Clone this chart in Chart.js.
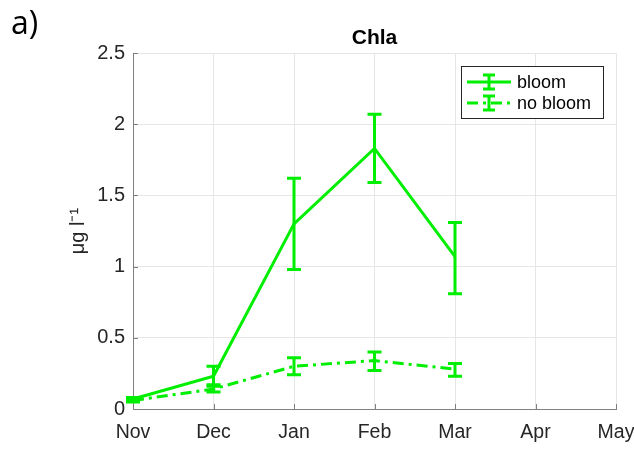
<!DOCTYPE html>
<html>
<head>
<meta charset="utf-8">
<script src="https://cdn.jsdelivr.net/npm/chart.js@4"></script>
<style>
  body { margin: 0; background: #fff; }
  #wrap { position: relative; width: 634px; height: 450px; }
  #panel { position: absolute; left: 11px; top: 0px; font: 32px 'Open Sans', sans-serif; color: #000; }
</style>
</head>
<body>
<div id="wrap">
  <canvas id="chlaChart"></canvas>
  <div id="panel">a)</div>
</div>
<script>
const months = ['Nov', 'Dec', 'Jan', 'Feb', 'Mar', 'Apr', 'May'];
const yTicks = [0, 0.5, 1, 1.5, 2, 2.5];

const bloom = [0.07, 0.23, 1.30, 1.83, 1.07, null, null];
const bloomLow = [0.06, 0.16, 0.98, 1.59, 0.81, null, null];
const bloomHigh = [0.08, 0.30, 1.62, 2.07, 1.31, null, null];

const noBloom = [0.06, 0.14, 0.30, 0.34, 0.28, null, null];
const noBloomLow = [0.05, 0.12, 0.24, 0.27, 0.23, null, null];
const noBloomHigh = [0.07, 0.17, 0.36, 0.40, 0.32, null, null];

const green = '#00ee00';
const dashDot = [11, 5, 3, 5];
const font = "'Liberation Sans', Arial, sans-serif";

// error bars, inward ticks and legend drawn on top of the lines
const errorBars = {
    id: 'errorBars',
    afterDatasetsDraw(chart) {
        const ctx = chart.ctx;
        const x = chart.scales.x;
        const y = chart.scales.y;
        const area = chart.chartArea;
        const sets = [[bloomLow, bloomHigh], [noBloomLow, noBloomHigh]];
        ctx.save();
        ctx.strokeStyle = '#808080';
        ctx.lineWidth = 1;
        ctx.beginPath();
        months.forEach((m, i) => {
            const px = Math.round(x.getPixelForValue(i)) + 0.5;
            ctx.moveTo(px, area.bottom); ctx.lineTo(px, area.bottom - 5);
        });
        yTicks.forEach(v => {
            const py = Math.round(y.getPixelForValue(v)) + 0.5;
            ctx.moveTo(area.left, py); ctx.lineTo(area.left + 5, py);
        });
        ctx.stroke();

        ctx.strokeStyle = green;
        ctx.lineWidth = 3;
        sets.forEach(([lo, hi]) => {
            lo.forEach((v, i) => {
                if (v === null) return;
                const px = x.getPixelForValue(i);
                const y1 = y.getPixelForValue(v);
                const y2 = y.getPixelForValue(hi[i]);
                ctx.beginPath();
                ctx.moveTo(px, y1); ctx.lineTo(px, y2);
                ctx.moveTo(px - 7, y1); ctx.lineTo(px + 7, y1);
                ctx.moveTo(px - 7, y2); ctx.lineTo(px + 7, y2);
                ctx.stroke();
            });
        });
        ctx.restore();
    },
    afterDraw(chart) {
        const ctx = chart.ctx;
        const area = chart.chartArea;
        const bx = area.right - 155, by = area.top + 13;
        ctx.save();
        ctx.fillStyle = '#fff';
        ctx.fillRect(bx, by, 142, 52);
        ctx.strokeStyle = '#262626';
        ctx.lineWidth = 1;
        ctx.strokeRect(bx + 0.5, by + 0.5, 142, 52);
        const rows = [['bloom', []], ['no bloom', dashDot]];
        rows.forEach(([label, dash], k) => {
            const ly = by + 16 + k * 21;
            ctx.strokeStyle = green;
            ctx.lineWidth = 3;
            ctx.setLineDash(dash);
            ctx.beginPath();
            ctx.moveTo(bx + 6, ly); ctx.lineTo(bx + 50, ly);
            ctx.stroke();
            ctx.setLineDash([]);
            const cx = bx + 28;
            ctx.beginPath();
            ctx.moveTo(cx, ly - 7); ctx.lineTo(cx, ly + 7);
            ctx.moveTo(cx - 6, ly - 7); ctx.lineTo(cx + 6, ly - 7);
            ctx.moveTo(cx - 6, ly + 7); ctx.lineTo(cx + 6, ly + 7);
            ctx.stroke();
            ctx.fillStyle = '#000';
            ctx.font = '18px ' + font;
            ctx.textBaseline = 'middle';
            ctx.fillText(label, bx + 56, ly + 1);
        });
        ctx.restore();
    }
};

new Chart(document.getElementById('chlaChart'), {
    type: 'line',
    data: {
        labels: months,
        datasets: [
            { label: 'bloom', data: bloom, borderColor: green, borderWidth: 3, pointRadius: 0, tension: 0 },
            { label: 'no bloom', data: noBloom, borderColor: green, borderWidth: 3, borderDash: dashDot, pointRadius: 0, tension: 0 }
        ]
    },
    options: {
        responsive: true,
        maintainAspectRatio: false,
        animation: false,
        layout: { padding: { top: 0, right: 0, bottom: 0, left: 0 } },
        plugins: {
            legend: { display: false },
            tooltip: { enabled: false },
            title: {
                display: true,
                text: 'Chla',
                fullSize: false,
                color: '#000',
                font: { family: font, size: 21, weight: 'bold' },
                padding: { top: 25.4, bottom: 2.4 }
            }
        },
        scales: {
            x: {
                offset: false,
                grid: { color: '#e6e6e6', drawTicks: false },
                border: { color: '#808080' },
                ticks: { color: '#262626', font: { family: font, size: 19.5 }, padding: 12, maxRotation: 0, autoSkip: false },
                afterFit: s => { s.height = 41; s.paddingRight = 18; s.paddingLeft = 0; }
            },
            y: {
                min: 0,
                max: 2.5,
                afterBuildTicks: s => { s.ticks = yTicks.map(v => ({ value: v })); },
                grid: { color: '#e6e6e6', drawTicks: false },
                border: { color: '#808080' },
                ticks: { color: '#262626', font: { family: font, size: 20 }, padding: 8, callback: v => String(v) },
                title: {
                    display: true,
                    text: 'μg l⁻¹',
                    color: '#262626',
                    font: { family: font, size: 20 },
                    padding: { top: 66 }
                },
                afterFit: s => { s.width = 133; }
            }
        }
    },
    plugins: [errorBars]
});
</script>
</body>
</html>
